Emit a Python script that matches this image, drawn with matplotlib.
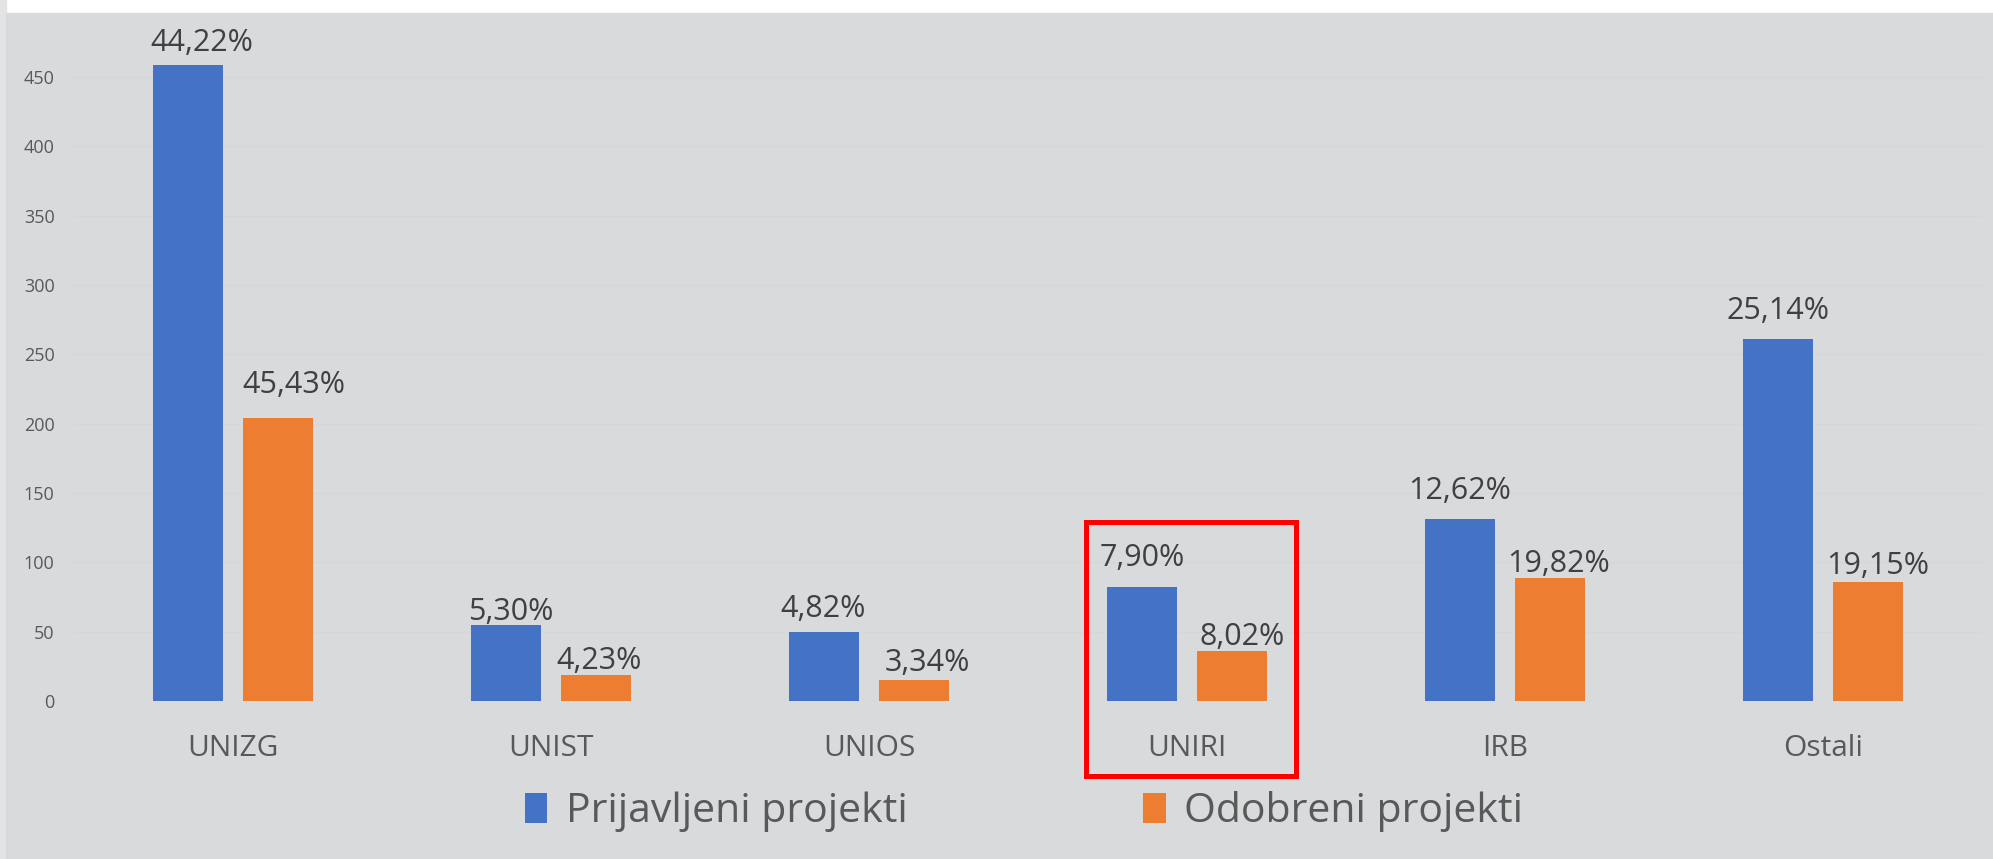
import matplotlib
matplotlib.use("Agg")
import matplotlib.pyplot as plt
from matplotlib.patches import Rectangle, Patch
import numpy as np

# data
categories = ["UNIZG", "UNIST", "UNIOS", "UNIRI", "IRB", "Ostali"]
prijavljeni = [459, 55, 50, 82, 131, 261]
odobreni = [204, 19, 15, 36, 89, 86]
series_names = ["Prijavljeni projekti", "Odobreni projekti"]
y_ticks = [0, 50, 100, 150, 200, 250, 300, 350, 400, 450]
highlight = "UNIRI"

# label nudges in pixels (dx, gap above bar) - labels were moved by hand in the original
blue_nudge = [(14, 14), (5, 5), (-1, 15), (0, 21), (0, 20), (0, 20)]
orange_nudge = [(16, 25), (3, 6), (13, 9), (10, 6), (9, 6), (10, 8)]

BLUE = "#4472C4"
ORANGE = "#ED7D31"
BG = "#D9DADC"
plt.rcParams["font.family"] = ["Open Sans", "DejaVu Sans"]

fig = plt.figure(figsize=(19.93, 8.59), dpi=100)
fig.patch.set_facecolor("white")
# grey slide panel + textured left strip
fig.patches.append(Rectangle((0, 0), 6 / 1993, 1, transform=fig.transFigure,
                             color="#E4E4E4", zorder=-5))
fig.patches.append(Rectangle((6 / 1993, 0), 1, (859 - 13) / 859, transform=fig.transFigure,
                             color=BG, zorder=-5))

ax = fig.add_axes([74 / 1993, 158 / 859, 1908 / 1993, 665.6 / 859])
ax.set_facecolor("none")
ax.set_zorder(1)

x = np.arange(len(categories))
off = 0.1415
w = 0.22
b1 = ax.bar(x - off, prijavljeni, w, color=BLUE, zorder=3)
b2 = ax.bar(x + off, odobreni, w, color=ORANGE, zorder=3)

ax.set_xlim(-0.5, 5.5)
ax.set_ylim(0, 480)
ax.set_yticks(y_ticks)
ax.set_xticks(x)
ax.set_xticklabels(categories)
ax.tick_params(axis="y", length=0, pad=14, labelsize=13, labelcolor="#595959")
ax.tick_params(axis="x", length=0, pad=24, labelsize=21.5, labelcolor="#595959")
for s in ax.spines.values():
    s.set_visible(False)
ax.grid(axis="y", color="#D5D6D8", lw=1, zorder=0)

tot1 = sum(prijavljeni)
tot2 = sum(odobreni)
for bars, vals, tot, nudge in [(b1, prijavljeni, tot1, blue_nudge), (b2, odobreni, tot2, orange_nudge)]:
    for bar, v, (dx, gap) in zip(bars, vals, nudge):
        txt = f"{v / tot * 100:.2f}%".replace(".", ",")
        ax.annotate(txt, (bar.get_x() + bar.get_width() / 2, v),
                    xytext=(dx, gap), textcoords="offset pixels",
                    ha="center", va="baseline", fontsize=22, color="#404040")

# red highlight box round UNIRI
hi = categories.index(highlight)
ax.add_patch(Rectangle((hi - 0.318, -54), 0.66, 183, fill=False, edgecolor="#FF0000",
                       lw=3.6, clip_on=False, zorder=4))

handles = [Patch(facecolor=BLUE), Patch(facecolor=ORANGE)]
fig.legend(handles, series_names, loc="center", bbox_to_anchor=(1024 / 1993, 1 - 812 / 859),
           ncol=2, frameon=False, fontsize=29.5, labelcolor="#595959",
           handlelength=0.55, handleheight=0.75, handletextpad=0.45, columnspacing=5.75)

fig.savefig("out.png", dpi=100, facecolor=fig.get_facecolor())
